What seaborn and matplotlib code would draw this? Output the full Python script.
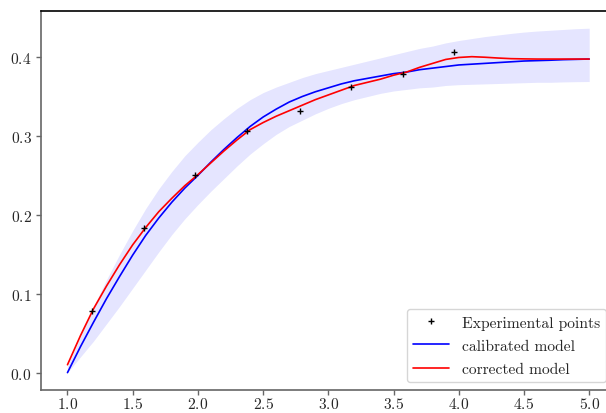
import numpy as np
import pandas as pd
import seaborn as sns
import matplotlib
matplotlib.use('Agg')
import matplotlib.pyplot as plt
from matplotlib.lines import Line2D

# values (step 0.1 in x)
x_grid = [1.0, 1.1, 1.2, 1.3, 1.4, 1.5, 1.6, 1.7, 1.8, 1.9, 2.0,
          2.1, 2.2, 2.3, 2.4, 2.5, 2.6, 2.7, 2.8, 2.9, 3.0,
          3.1, 3.2, 3.3, 3.4, 3.5, 3.6, 3.7, 3.8, 3.9, 4.0,
          4.1, 4.2, 4.3, 4.4, 4.5, 4.6, 4.7, 4.8, 4.9, 5.0]
calibrated = [0.000, 0.033, 0.064, 0.094, 0.122, 0.149, 0.174, 0.196, 0.216, 0.234, 0.250,
              0.267, 0.283, 0.298, 0.312, 0.324, 0.334, 0.343, 0.350, 0.356, 0.361,
              0.366, 0.370, 0.373, 0.376, 0.379, 0.381, 0.384, 0.386, 0.388, 0.390,
              0.391, 0.392, 0.393, 0.394, 0.395, 0.3955, 0.396, 0.3967, 0.3971, 0.3975]
corrected = [0.010, 0.047, 0.081, 0.110, 0.137, 0.162, 0.184, 0.204, 0.221, 0.237, 0.251,
             0.266, 0.281, 0.295, 0.308, 0.317, 0.325, 0.332, 0.339, 0.346, 0.352,
             0.358, 0.364, 0.368, 0.372, 0.377, 0.381, 0.387, 0.392, 0.397, 0.3995,
             0.4005, 0.3998, 0.3988, 0.398, 0.3977, 0.3975, 0.3975, 0.3975, 0.3975, 0.3975]
band_low = [0.000, 0.020, 0.040, 0.062, 0.084, 0.107, 0.130, 0.153, 0.175, 0.195, 0.213,
            0.230, 0.246, 0.262, 0.277, 0.290, 0.302, 0.312, 0.320, 0.328, 0.335,
            0.341, 0.346, 0.350, 0.354, 0.357, 0.359, 0.361, 0.362, 0.364, 0.365,
            0.3655, 0.366, 0.3665, 0.367, 0.3675, 0.368, 0.368, 0.3685, 0.3688, 0.369]
band_high = [0.008, 0.046, 0.084, 0.118, 0.150, 0.180, 0.208, 0.233, 0.255, 0.275, 0.292,
             0.308, 0.322, 0.335, 0.346, 0.355, 0.362, 0.368, 0.374, 0.379, 0.383,
             0.387, 0.391, 0.395, 0.399, 0.403, 0.407, 0.411, 0.414, 0.418, 0.421,
             0.4235, 0.426, 0.428, 0.430, 0.4317, 0.433, 0.434, 0.435, 0.436, 0.4366]

exp_x = [1.19, 1.59, 1.98, 2.38, 2.78, 3.17, 3.57, 3.96]
exp_y = [0.078, 0.183, 0.250, 0.3066, 0.3322, 0.3618, 0.3789, 0.4063]

sns.set_style('white')
plt.rcParams['font.family'] = ['cmr10', 'DejaVu Serif']
plt.rcParams['axes.formatter.use_mathtext'] = True
plt.rcParams['mathtext.fontset'] = 'cm'

df_curves = pd.DataFrame({'x': x_grid, 'calibrated': calibrated, 'corrected': corrected,
                          'low': band_low, 'high': band_high})
df_pts = pd.DataFrame({'x': exp_x, 'y': exp_y})

fig = plt.figure(figsize=(6.06, 4.14), dpi=100)
ax = fig.add_axes([0.0683, 0.056, 0.947, 0.915])

ax.fill_between(df_curves['x'], df_curves['low'], df_curves['high'], color='blue', alpha=0.1, linewidth=0)
sns.lineplot(data=df_curves, x='x', y='calibrated', color='blue', linewidth=1.2, ax=ax)
sns.lineplot(data=df_curves, x='x', y='corrected', color='red', linewidth=1.2, ax=ax)
sns.scatterplot(data=df_pts, x='x', y='y', marker='+', color='black', s=22, linewidth=1.0, ax=ax, zorder=5)

ax.set_xlim(0.8, 5.2)
ax.set_ylim(-0.0218, 0.4584)
ax.set_xticks([1.0, 1.5, 2.0, 2.5, 3.0, 3.5, 4.0, 4.5, 5.0])
ax.set_yticks([0.0, 0.1, 0.2, 0.3, 0.4])
ax.set_xlabel('')
ax.set_ylabel('')
ax.tick_params(axis='both', labelsize=11.2, length=3.5, width=1, color='0.4', direction='out',
               bottom=True, left=True, labelcolor='0.15')
ax.tick_params(axis='x', pad=1)

for side in ['left', 'bottom']:
    ax.spines[side].set_color('0.4')
    ax.spines[side].set_linewidth(1.2)
ax.spines['top'].set_color('black')
ax.spines['top'].set_linewidth(1.2)
ax.spines['right'].set_visible(False)

handles = [Line2D([], [], marker='+', color='black', linestyle='None', markersize=5),
           Line2D([], [], color='blue', linewidth=1.2),
           Line2D([], [], color='red', linewidth=1.2)]
labels = ['Experimental points', 'calibrated model', 'corrected model']
ax.legend(handles, labels, loc='lower right', fontsize=11.2, frameon=True,
          labelspacing=0.6, handlelength=2.3, handletextpad=0.84,
          bbox_to_anchor=(0.9845, 0.02), borderaxespad=0)

fig.savefig('out.png', dpi=100)
